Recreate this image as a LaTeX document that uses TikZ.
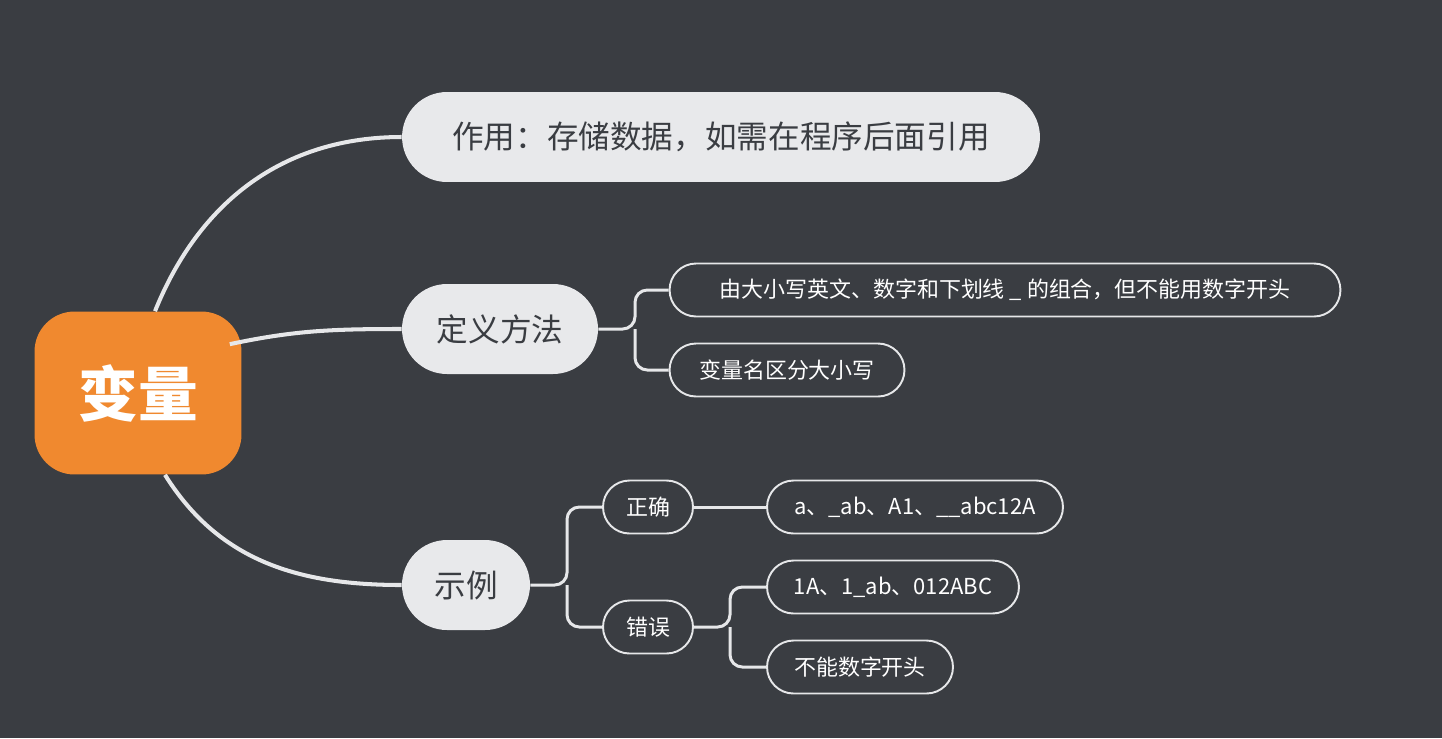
\documentclass[tikz,border=0pt]{standalone}
\usepackage{fontspec}
\setmainfont{Noto Sans CJK SC}
\usetikzlibrary{positioning,calc}
\definecolor{bgdark}{HTML}{3A3D42}
\definecolor{rootorange}{HTML}{F0892F}
\definecolor{boxgray}{HTML}{E8E9EB}
\definecolor{textgray}{HTML}{3A3D42}
\definecolor{linegray}{HTML}{E6E7E9}

\begin{document}
\begin{tikzpicture}[x=0.02cm, y=-0.02cm,
			root/.style={rectangle, rounded corners=0.8cm, fill=rootorange, text=white, font=\fontsize{34}{40}\selectfont\bfseries, minimum width=4.14cm, minimum height=3.26cm},
			topic/.style={rectangle, rounded corners=0.9cm, fill=boxgray, text=textgray, font=\fontsize{18}{22}\selectfont, minimum height=1.8cm, inner xsep=0.6cm},
			leaf/.style={rectangle, rounded corners=0.53cm, draw=linegray, line width=1.1pt, text=white, font=\fontsize{12.5}{15}\selectfont, minimum height=1.06cm, inner xsep=0.45cm},
			branch/.style={draw=linegray, line width=2.3pt},
			link/.style={draw=linegray, line width=1.7pt, rounded corners=7pt}]
			\fill[bgdark] (0,0) rectangle (1442,738);
			\node[root] (var) at (138,393) {变量};
			\node[topic, minimum width=12.76cm] (use) at (721,137) {作用：存储数据，如需在程序后面引用};
			\node[topic, minimum width=3.92cm] (def) at (500,329) {定义方法};
			\node[topic, minimum width=2.56cm] (demo) at (466,585) {示例};
			\node[leaf, minimum width=13.42cm] (rule1) at (1005,290) {由大小写英文、数字和下划线 \_ 的组合，但不能用数字开头};
			\node[leaf, minimum width=4.7cm] (rule2) at (787,370) {变量名区分大小写};
			\node[leaf, minimum width=1.8cm] (good) at (648,507) {正确};
			\node[leaf, minimum width=1.8cm] (bad) at (648,627) {错误};
			\node[leaf, minimum width=5.92cm] (goodex) at (915,507) {a、\_ab、A1、\_\_abc12A};
			\node[leaf, minimum width=5.04cm] (badex) at (893,587) {1A、1\_ab、012ABC};
			\node[leaf, minimum width=3.72cm] (badnote) at (860,667) {不能数字开头};
			\coordinate (defj) at (635,329);
			\coordinate (demoj) at (567,585);
			\coordinate (badj) at (730,627);
			% main branches
			\draw[branch] ([xshift=0.34cm]var.north) to[out=68, in=180] (use.west);
			\draw[branch] ([xshift=-0.24cm, yshift=-0.66cm]var.north east) to[out=12, in=180] (def.west);
			\draw[branch] ([xshift=0.54cm]var.south) to[out=-58, in=180] (demo.west);
			% sub branches
			\draw[link] (def.east) -- (defj) |- (rule1.west);
			\draw[link] (defj) |- (rule2.west);
			\draw[link] (demo.east) -- (demoj) |- (good.west);
			\draw[link] (demoj) |- (bad.west);
			\draw[link] (good.east) -- (goodex.west);
			\draw[link] (bad.east) -- (badj) |- (badex.west);
			\draw[link] (badj) |- (badnote.west);
		\end{tikzpicture}
\end{document}
